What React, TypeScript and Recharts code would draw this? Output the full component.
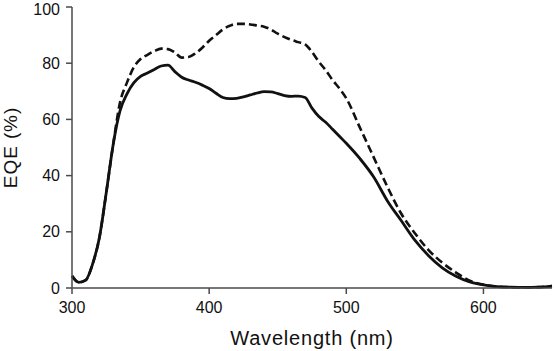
import React from "react"
import { CartesianGrid, Line, LineChart, XAxis, YAxis } from "recharts"

// wavelength grid (nm)
const wavelengths = [
  300, 305, 310, 315, 320, 325, 330, 335, 340, 345, 350, 355, 360, 365, 370, 375, 380, 385, 390, 395,
  400, 405, 410, 415, 420, 425, 430, 435, 440, 445, 450, 455, 460, 465, 470, 475, 480, 485, 490, 495,
  500, 510, 520, 530, 540, 550, 560, 570, 580, 590, 600, 610, 620, 630, 640, 650,
]

// solid curve, EQE (%)
const eqeSolid = [
  4.3, 2.0, 2.8, 8.5, 18, 34, 51, 63, 69, 73, 75.3, 76.5, 77.8, 79, 79.3, 77, 75, 74, 73.2, 72.2,
  71, 69.3, 67.8, 67.4, 67.5, 68, 68.7, 69.4, 69.9, 69.8, 69.2, 68.5, 68.2, 68.3, 67.8, 64, 61, 59, 56.5, 54,
  51.5, 46, 39.5, 31, 24, 17, 11.5, 7.2, 4.2, 2.2, 1.1, 0.5, 0.3, 0.2, 0.3, 0.7,
]

// dashed curve, EQE (%)
const eqeDashed = [
  4.3, 2.0, 2.8, 8.5, 18, 34, 51, 66, 73, 78.5, 81.5, 83, 84.3, 85.2, 85, 83.8, 82, 82.2, 83.5, 85.5,
  88, 90, 92, 93.3, 94, 94, 93.8, 93.4, 93, 92, 90.5, 89.3, 88.3, 87.5, 86.7, 84, 80.5, 77.5, 74, 71,
  67.5, 57, 46.5, 36, 26.5, 19.5, 13.5, 9, 5.5, 2.6, 1.2, 0.5, 0.3, 0.2, 0.3, 0.7,
]

const xTicks = [300, 400, 500, 600]
const yTicks = [0, 20, 40, 60, 80, 100]

const data = wavelengths.map((w, i) => ({ w, solid: eqeSolid[i], dashed: eqeDashed[i] }))

const FONT = '"Liberation Sans", Arial, sans-serif'
const AXIS = "#4a4a4a"

const XLabel = (props: any) => {
  const { x, y, width } = props.viewBox
  return (
    <text x={x + width / 2} y={y + 57} textAnchor="middle" fontSize={20} letterSpacing={0.8} fill="#111" fontFamily={FONT}>
      Wavelength (nm)
    </text>
  )
}

const YLabel = (props: any) => {
  const { y, height } = props.viewBox
  const cx = 17
  const cy = y + height / 2
  return (
    <text
      x={cx}
      y={cy}
      transform={`rotate(-90, ${cx}, ${cy})`}
      textAnchor="middle"
      fontSize={19}
      letterSpacing={0.9}
      fill="#111"
      fontFamily={FONT}
    >
      EQE (%)
    </text>
  )
}

export default function App() {
  return (
    <div style={{ position: "absolute", left: 0, top: 0, background: "#fff" }}>
      <LineChart width={554} height={351} data={data} margin={{ top: 7, right: 2, bottom: 0, left: 0 }}>
        <CartesianGrid stroke="none" />
        <XAxis
          dataKey="w"
          type="number"
          domain={[300, 650]}
          ticks={xTicks}
          height={63}
          tickSize={6}
          tickMargin={8}
          stroke={AXIS}
          strokeWidth={1.5}
          tick={{ fill: "#111", fontSize: 16, fontFamily: FONT }}
          label={XLabel}
        />
        <YAxis
          type="number"
          domain={[0, 100]}
          ticks={yTicks}
          width={72}
          tickSize={6}
          tickMargin={6}
          stroke={AXIS}
          strokeWidth={1.5}
          tick={{ fill: "#111", fontSize: 16, fontFamily: FONT }}
          label={YLabel}
        />
        <Line
          dataKey="dashed"
          type="monotone"
          stroke="#111"
          strokeWidth={2.6}
          strokeDasharray="8 4"
          dot={false}
          isAnimationActive={false}
        />
        <Line dataKey="solid" type="monotone" stroke="#111" strokeWidth={2.8} dot={false} isAnimationActive={false} />
      </LineChart>
    </div>
  )
}
